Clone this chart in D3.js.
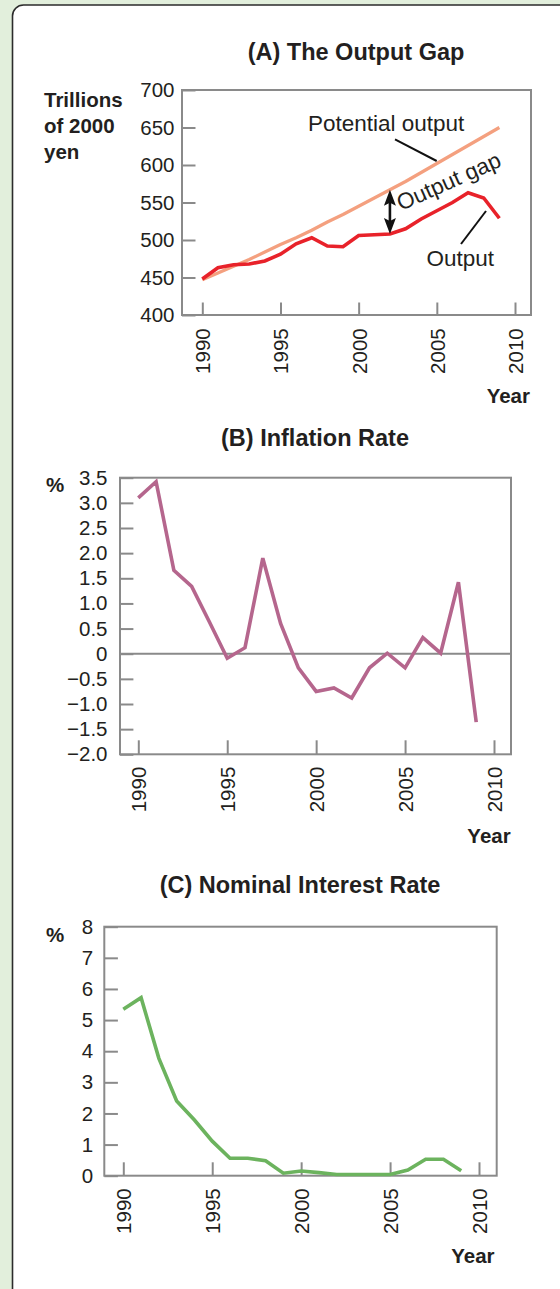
<!DOCTYPE html>
<html><head><meta charset="utf-8">
<script src="https://cdn.jsdelivr.net/npm/d3@7"></script>
<style>
body{margin:0;background:#e2efdc;}
svg{display:block;}
text{font-family:"Liberation Sans",Arial,Helvetica,sans-serif;fill:#231f20;}
</style>
</head><body>
<svg id="c" width="560" height="1289"></svg>
<script>
// ---------- DATA ----------
const years = [1990,1991,1992,1993,1994,1995,1996,1997,1998,1999,2000,2001,2002,2003,2004,2005,2006,2007,2008,2009];
const outputA = [448,463,467,468,472,481,495,503,492,491,506,507,508,515,528,539,550,563,556,529];
const potentialA = [447,456,465,474,484,494,503,513,524,534,545,556,567,578,590,602,614,626,638,650];
const inflationB = [3.10,3.42,1.66,1.34,0.63,-0.09,0.12,1.90,0.60,-0.28,-0.75,-0.68,-0.88,-0.28,0.01,-0.28,0.32,0.01,1.42,-1.36];
const interestC = [5.35,5.72,3.77,2.40,1.79,1.11,0.56,0.56,0.48,0.08,0.15,0.10,0.04,0.04,0.04,0.04,0.18,0.53,0.53,0.16];
const xTickYears = [1990,1995,2000,2005,2010];
const yTicksA = [400,450,500,550,600,650,700];
const yTicksB = [-2,-1.5,-1,-0.5,0,0.5,1,1.5,2,2.5,3,3.5];
const yLabelsB = ["\u22122.0","\u22121.5","\u22121.0","\u22120.5","0","0.5","1.0","1.5","2.0","2.5","3.0","3.5"];
const yTicksC = [0,1,2,3,4,5,6,7,8];
const titles = ["(A) The Output Gap","(B) Inflation Rate","(C) Nominal Interest Rate"];

// ---------- SETUP ----------
const svg = d3.select('#c');
svg.append('rect').attr('x',0).attr('y',0).attr('width',560).attr('height',1289).attr('fill','#e2efdc');
svg.append('rect').attr('x',12.5).attr('y',5).attr('width',640).attr('height',1300).attr('rx',11)
  .attr('fill','#ffffff').attr('stroke','#2b2b2b').attr('stroke-width',1.6);

const AXIS = '#8a8a8a';
const TICKFONT = '20.5px';

function drawAxes(f, x, y, yTicks, yFmt, o){
  const gx = svg.append('g').attr('transform',`translate(0,${f.b})`)
    .call(d3.axisBottom(x).tickValues(xTickYears).tickSize(-o.xTick).tickFormat(d3.format('d')));
  gx.attr('font-family',null).attr('font-size',null);
  gx.select('.domain').remove();
  gx.selectAll('.tick line').attr('stroke',AXIS).attr('stroke-width',2);
  gx.selectAll('.tick text').attr('transform','rotate(-90)').attr('x',-o.xLabGap).attr('y',0)
    .attr('dy','0.36em').attr('text-anchor','end').attr('fill','#231f20').style('font-size',TICKFONT);

  const gy = svg.append('g').attr('transform',`translate(${f.l},0)`)
    .call(d3.axisLeft(y).tickValues(yTicks).tickSize(-o.yTick).tickPadding(o.yLabGap).tickFormat(yFmt));
  gy.attr('font-family',null).attr('font-size',null);
  gy.select('.domain').remove();
  gy.selectAll('.tick line').attr('stroke',AXIS).attr('stroke-width',2);
  gy.selectAll('.tick text').attr('fill','#231f20').style('font-size',TICKFONT);

  svg.append('rect').attr('x',f.l).attr('y',f.t).attr('width',f.r-f.l).attr('height',f.b-f.t)
    .attr('fill','none').attr('stroke',AXIS).attr('stroke-width',2);
}
function title(t, cx, by){
  svg.append('text').attr('x',cx).attr('y',by).attr('text-anchor','middle')
    .style('font-size','23.5px').style('font-weight','bold').text(t);
}
function yearLabel(rx, by){
  svg.append('text').attr('x',rx).attr('y',by).attr('text-anchor','end')
    .style('font-size','20.5px').style('font-weight','bold').text('Year');
}
function unitLabel(lines, lx, by, lh){
  const t = svg.append('text').attr('x',lx).attr('y',by).style('font-size','20.5px').style('font-weight','bold');
  lines.forEach((s,i)=> t.append('tspan').attr('x',lx).attr('y',by+i*lh).text(s));
}

// ---------- CHART A ----------
const fA = {l:182, r:531, t:90, b:315};
const xA = d3.scaleLinear().domain([1990,2010]).range([202.3,515]);
const yA = d3.scaleLinear().domain([400,700]).range([fA.b,fA.t]);
title(titles[0], 356, 59.5);
unitLabel(['Trillions','of 2000','yen'], 44, 106.5, 26.3);
drawAxes(fA, xA, yA, yTicksA, d3.format('d'), {xTick:12.5, yTick:13.5, xLabGap:13.3, yLabGap:7.5});
yearLabel(530, 403.3);

const lineA = d3.line().x((d,i)=>xA(years[i])).y(d=>yA(d));
svg.append('path').datum(potentialA).attr('d',lineA).attr('fill','none')
  .attr('stroke','#f4a07f').attr('stroke-width',3.2).attr('stroke-linejoin','round');
svg.append('path').datum(outputA).attr('d',lineA).attr('fill','none')
  .attr('stroke','#e8222a').attr('stroke-width',3.6).attr('stroke-linejoin','miter');

// annotations
const ann = svg.append('g');
ann.append('text').attr('x',308).attr('y',130.7).style('font-size','22.5px').text('Potential output');
ann.append('line').attr('x1',395).attr('y1',139.3).attr('x2',436.7).attr('y2',161).attr('stroke','#111').attr('stroke-width',2);
ann.append('text').attr('x',426.5).attr('y',265.7).style('font-size','22.5px').text('Output');
ann.append('line').attr('x1',461).attr('y1',244).attr('x2',486).attr('y2',211).attr('stroke','#111').attr('stroke-width',2);
ann.append('text').attr('transform','translate(401,211) rotate(-24)').style('font-size','22.5px').text('Output gap');
// double arrow at 2002
const ax = xA(2002), aTop = yA(potentialA[12]), aBot = yA(outputA[12]);
ann.append('line').attr('x1',ax).attr('x2',ax).attr('y1',aTop+10).attr('y2',aBot-10).attr('stroke','#111').attr('stroke-width',2.6);
ann.append('path').attr('d',`M${ax},${aTop}L${ax-6},${aTop+16}L${ax},${aTop+13}L${ax+6},${aTop+16}Z`).attr('fill','#111');
ann.append('path').attr('d',`M${ax},${aBot}L${ax-6},${aBot-16}L${ax},${aBot-13}L${ax+6},${aBot-16}Z`).attr('fill','#111');

// ---------- CHART B ----------
const fB = {l:120, r:511, t:477.7, b:754.3};
const xB = d3.scaleLinear().domain([1990,2010]).range([138.3,494]);
const yB = d3.scaleLinear().domain([-2,3.5]).range([fB.b,fB.t]);
title(titles[1], 315, 446);
unitLabel(['%'], 46, 491.7, 0);
drawAxes(fB, xB, yB, yTicksB, (d,i)=>yLabelsB[i], {xTick:14, yTick:13.4, xLabGap:12.4, yLabGap:12.5});
svg.append('line').attr('x1',fB.l).attr('x2',fB.r).attr('y1',yB(0)).attr('y2',yB(0)).attr('stroke',AXIS).attr('stroke-width',2);
yearLabel(510.7, 843.3);
const lineB = d3.line().x((d,i)=>xB(years[i])).y(d=>yB(d));
svg.append('path').datum(inflationB).attr('d',lineB).attr('fill','none')
  .attr('stroke','#b5668d').attr('stroke-width',3.6);

// ---------- CHART C ----------
const fC = {l:104.3, r:496.7, t:926.7, b:1175.7};
const xC = d3.scaleLinear().domain([1990,2010]).range([123.3,479]);
const yC = d3.scaleLinear().domain([0,8]).range([fC.b,fC.t]);
title(titles[2], 300, 893.3);
unitLabel(['%'], 46, 941.7, 0);
drawAxes(fC, xC, yC, yTicksC, d3.format('d'), {xTick:13.4, yTick:13.6, xLabGap:12.6, yLabGap:11.2});
yearLabel(494.6, 1263.3);
const lineC = d3.line().x((d,i)=>xC(years[i])).y(d=>yC(d));
svg.append('path').datum(interestC).attr('d',lineC).attr('fill','none')
  .attr('stroke','#6cb35e').attr('stroke-width',3.6);
</script>
</body></html>
